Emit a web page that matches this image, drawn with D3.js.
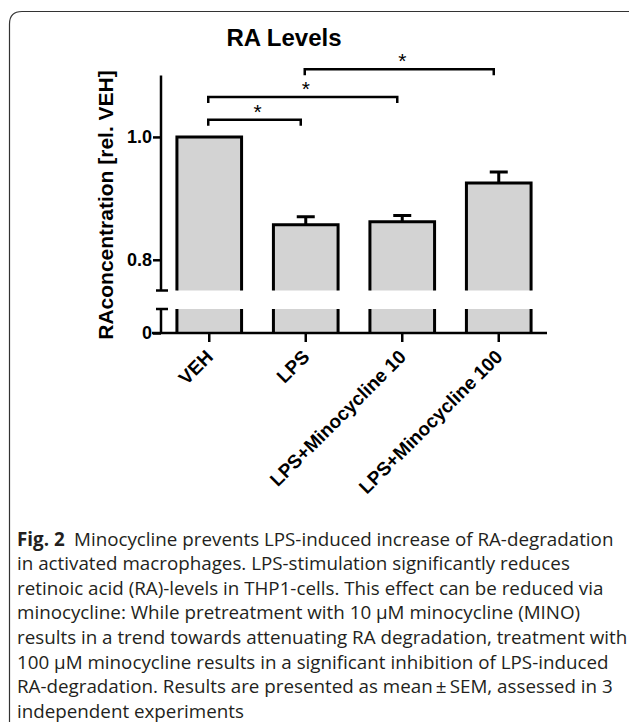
<!DOCTYPE html>
<html>
<head>
<meta charset="utf-8">
<script src="https://cdn.jsdelivr.net/npm/d3@7"></script>
<style>
  body { margin: 0; background: #fff; }
  svg { display: block; }
</style>
</head>
<body>
<div id="chart"></div>
<script>
/* donnees */
let groups = ['VEH', 'LPS', 'LPS+Minocycline 10', 'LPS+Minocycline 100'];
let means = [1.0, 0.857, 0.862, 0.925];
let sems = [0.002, 0.013, 0.010, 0.018];
let upperTicks = [0.8, 1.0];
let lowerTicks = [0];
/* comparaisons significatives : [groupe a, groupe b, hauteur] */
let pairsA = [0, 0, 1];
let pairsB = [1, 2, 3];
let pairsY = [1.028, 1.065, 1.11];
let pairLabels = ['*', '*', '*'];

let captionLines = [
  'Minocycline prevents LPS-induced increase of RA-degradation',
  'in activated macrophages. LPS-stimulation significantly reduces',
  'retinoic acid (RA)-levels in THP1-cells. This effect can be reduced via',
  'minocycline: While pretreatment with 10 \u00b5M minocycline (MINO)',
  'results in a trend towards attenuating RA degradation, treatment with',
  '100 \u00b5M minocycline results in a significant inhibition of LPS-induced',
  'RA-degradation. Results are presented as mean\u2009\u00b1\u2009SEM, assessed in 3',
  'independent experiments'
];

let width = 629, height = 725;
let boldFont = 'Liberation Sans, Arial, sans-serif';

let svg = d3.select('#chart').append('svg')
  .attr('width', width)
  .attr('height', height);

/* cadre arrondi gauche/haut */
svg.append('path')
  .attr('d', 'M9.5,722 L9.5,24 Q9.5,11.5 22,11.5 L629,11.5')
  .attr('fill', 'none')
  .attr('stroke', '#333')
  .attr('stroke-width', 1.2);

/* echelles */
let x = d3.scaleBand().domain(groups).range([161, 547])
  .paddingInner(0.33).paddingOuter(0.165);
let yUp = d3.scaleLinear().domain([0.75, 1.1]).range([290.5, 75.5]);
let yLow = d3.scaleLinear().domain([0, 0.04]).range([333, 309]);

let barColor = '#d3d3d3';

/* barres partie haute */
groups.forEach((g, i) => {
  let x0 = x(g), w = x.bandwidth();
  let yt = yUp(means[i]), yb = yUp(0.75);
  svg.append('rect')
    .attr('x', x0).attr('y', yt)
    .attr('width', w).attr('height', yb - yt)
    .attr('fill', barColor);
  svg.append('path')
    .attr('d', `M${x0},${yb} L${x0},${yt} L${x0 + w},${yt} L${x0 + w},${yb}`)
    .attr('fill', 'none').attr('stroke', '#000').attr('stroke-width', 3);
  /* partie basse */
  let lt = yLow(0.04), lb = yLow(0);
  svg.append('rect')
    .attr('x', x0).attr('y', lt)
    .attr('width', w).attr('height', lb - lt)
    .attr('fill', barColor);
  svg.append('path')
    .attr('d', `M${x0},${lt} L${x0},${lb} M${x0 + w},${lt} L${x0 + w},${lb}`)
    .attr('fill', 'none').attr('stroke', '#000').attr('stroke-width', 3);
  /* erreur (SEM vers le haut) */
  let cx = x0 + w / 2, ye = yUp(means[i] + sems[i]);
  if (sems[i] > 0.004) {
    svg.append('path')
      .attr('d', `M${cx},${yt} L${cx},${ye} M${cx - 9},${ye} L${cx + 9},${ye}`)
      .attr('fill', 'none').attr('stroke', '#000').attr('stroke-width', 3);
  }
});

/* axe Y haut */
let yAxisUp = d3.axisLeft(yUp).tickValues(upperTicks)
  .tickFormat(d3.format('.1f')).tickSize(8).tickSizeOuter(0);
let gUp = svg.append('g').attr('transform', 'translate(161,0)').call(yAxisUp);
gUp.select('.domain').remove();
gUp.append('line').attr('x1', 0).attr('x2', 0)
  .attr('y1', yUp(1.1)).attr('y2', yUp(0.75))
  .attr('stroke', '#000').attr('stroke-width', 2.5);
gUp.append('line').attr('x1', -5).attr('x2', 7)
  .attr('y1', yUp(0.75)).attr('y2', yUp(0.75))
  .attr('stroke', '#000').attr('stroke-width', 2.5);

/* axe Y bas */
let yAxisLow = d3.axisLeft(yLow).tickValues(lowerTicks)
  .tickFormat(d3.format('d')).tickSize(8).tickSizeOuter(0);
let gLow = svg.append('g').attr('transform', 'translate(161,0)').call(yAxisLow);
gLow.select('.domain').remove();
gLow.append('line').attr('x1', 0).attr('x2', 0)
  .attr('y1', yLow(0.04)).attr('y2', yLow(0))
  .attr('stroke', '#000').attr('stroke-width', 2.5);
gLow.append('line').attr('x1', -5).attr('x2', 7)
  .attr('y1', yLow(0.04)).attr('y2', yLow(0.04))
  .attr('stroke', '#000').attr('stroke-width', 2.5);

[gUp, gLow].forEach(g => {
  g.selectAll('.tick line').attr('stroke', '#000').attr('stroke-width', 2.5);
  g.selectAll('.tick text')
    .attr('x', -9)
    .style('font-family', boldFont)
    .style('font-size', '18px')
    .style('font-weight', 'bold')
    .attr('fill', '#000');
});

/* axe X */
let xAxis = d3.axisBottom(x).tickSize(9).tickSizeOuter(0);
let gx = svg.append('g').attr('transform', `translate(0,${yLow(0)})`).call(xAxis);
gx.select('.domain').remove();
gx.append('line').attr('x1', 152).attr('x2', 547)
  .attr('y1', 0).attr('y2', 0)
  .attr('stroke', '#000').attr('stroke-width', 2.5);
gx.selectAll('.tick line').attr('stroke', '#000').attr('stroke-width', 2.5);
gx.selectAll('.tick text')
  .style('font-family', boldFont)
  .style('font-size', '19px')
  .style('font-weight', 'bold')
  .attr('fill', '#000')
  .attr('text-anchor', 'end')
  .attr('dy', 0)
  .attr('transform', 'translate(5,25) rotate(-45)')
  .attr('x', 0).attr('y', 0);

/* titre et libelle axe */
svg.append('text')
  .attr('x', 284).attr('y', 46)
  .attr('text-anchor', 'middle')
  .style('font-family', boldFont)
  .style('font-size', '24px')
  .style('font-weight', 'bold')
  .text('RA Levels');

svg.append('text')
  .attr('transform', 'translate(113,205) rotate(-90)')
  .attr('text-anchor', 'middle')
  .style('font-family', boldFont)
  .style('font-size', '21px')
  .style('font-weight', 'bold')
  .text('RAconcentration [rel. VEH]');

/* crochets de significativite */
pairsA.forEach((a, i) => {
  let xa = x(groups[a]) + x.bandwidth() / 2 - 1;
  let xb = x(groups[pairsB[i]]) + x.bandwidth() / 2 - 5;
  let yb = yUp(pairsY[i]);
  svg.append('path')
    .attr('d', `M${xa},${yb + 6} L${xa},${yb} L${xb},${yb} L${xb},${yb + 6}`)
    .attr('fill', 'none').attr('stroke', '#000').attr('stroke-width', 2.5);
  svg.append('text')
    .attr('x', (xa + xb) / 2 + 3).attr('y', yb - 1)
    .attr('text-anchor', 'middle')
    .style('font-family', boldFont)
    .style('font-size', '21px')
    .text(pairLabels[i]);
});

/* legende */
let cap = svg.append('g')
  .style('font-family', 'Open Sans, sans-serif')
  .style('font-size', '18.8px')
  .attr('fill', '#231f20');
captionLines.forEach((line, i) => {
  let t = cap.append('text').attr('x', 17).attr('y', 545.5 + i * 24.6);
  if (i === 0) {
    t.append('tspan').style('font-weight', 'bold').text('Fig.\u00a02');
    t.append('tspan').text('\u2002' + line);
  } else {
    t.text(line);
  }
});
</script>
</body>
</html>
